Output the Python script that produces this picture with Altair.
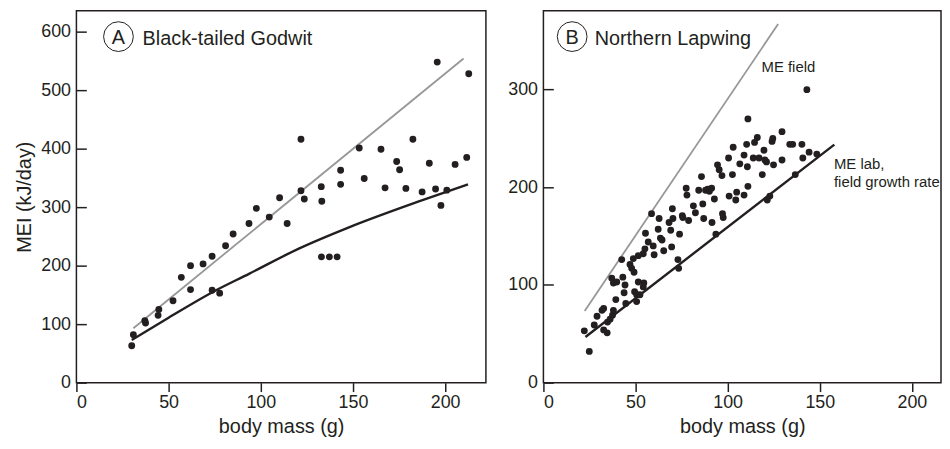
import altair as alt
import pandas as pd

FONT = "Liberation Sans"
INK = "#231f20"

# ---------- Panel A: Black-tailed Godwit ----------
a_mass = [30.0, 30.9, 37.1, 37.5, 44.7, 44.3, 52.4, 56.9, 61.9, 61.9, 68.7, 73.6,
          73.6, 77.7, 80.9, 85.0, 93.6, 97.6, 104.6, 110.2, 114.3, 121.8, 121.8,
          123.6, 132.8, 133.1, 132.9, 137.2, 141.4, 143.3, 143.3, 153.4, 156.1,
          165.2, 167.4, 173.7, 175.3, 178.7, 182.5, 187.5, 191.4, 194.8, 195.7,
          197.7, 200.9, 205.4, 211.7, 212.8]
a_mei = [63, 82, 106, 102, 125, 115, 140, 180, 200, 159, 203, 216,
         158, 153, 234, 254, 272, 298, 283, 316, 272, 416, 328,
         314, 335, 310, 215, 215, 215, 363, 339, 401, 349,
         399, 333, 378, 364, 332, 416, 326, 375, 331, 548,
         303, 329, 373, 385, 528]

a_field_x = [30.9, 210.0]
a_field_y = [93, 554]
a_lab_x = [30.0, 50.0, 74.0, 93.6, 120.6, 147.5, 186.9, 212.4]
a_lab_y = [73, 111, 155, 186, 229, 265, 311, 339]

# ---------- Panel B: Northern Lapwing ----------
b_mass = [22.2, 24.9, 27.6, 29.1, 31.8, 32.7, 32.7, 34.6, 34.8, 36.2, 37.5, 38.0,
          37.1, 38.0, 39.3, 39.8, 42.5, 43.1, 43.8, 44.3, 44.7, 47.9, 48.8, 49.2,
          49.5, 50.6, 50.6, 51.5, 51.5, 52.4, 54.2, 54.5, 55.1, 55.4, 56.9, 58.7,
          59.6, 60.1, 62.3, 62.8, 63.5, 64.4, 65.3, 68.2, 69.1, 69.6, 70.0, 70.3,
          73.0, 73.4, 73.9, 75.4, 75.7, 77.5, 77.9, 78.8, 81.4, 82.5, 84.3, 85.8,
          86.5, 87.0, 88.0, 89.2, 90.1, 91.3, 91.5, 92.8, 93.6, 94.5, 95.4, 96.9,
          97.2, 97.6, 100.5, 100.8, 102.6, 103.0, 104.4, 104.9, 106.6, 108.9, 108.9,
          110.3, 110.7, 111.0, 111.0, 113.9, 114.6, 116.1, 117.0, 118.8, 119.7,
          120.2, 121.1, 121.5, 122.9, 124.1, 124.5, 124.9, 129.5, 129.5, 133.7,
          135.3, 136.7, 140.3, 140.8, 143.0, 144.2, 148.4, 47.0, 54.2]
b_mei = [53, 32, 59, 68, 74, 76, 54, 51, 62, 65, 69, 74,
         107, 102, 85, 103, 126, 108, 92, 100, 81, 117, 127, 113,
         93, 90, 83, 130, 103, 90, 132, 102, 137, 153, 144, 173,
         140, 131, 157, 168, 148, 146, 135, 164, 156, 139, 178, 168,
         126, 117, 152, 171, 169, 199, 192, 166, 181, 174, 197, 211,
         183, 168, 197, 198, 196, 199, 164, 188, 152, 223, 218, 212,
         173, 169, 230, 191, 213, 241, 187, 195, 224, 233, 192,
         244, 221, 201, 270, 230, 246, 251, 230, 213, 238,
         228, 226, 187, 191, 247, 250, 223, 257, 228, 244,
         244, 213, 244, 230, 300, 236, 234, 121, 98]

b_field_x = [22.4, 127.4]
b_field_y = [73.4, 367.2]
b_lab_x = [22.8, 157.9]
b_lab_y = [46.7, 243.7]

x_ticks = [0, 50, 100, 150, 200]
a_y_ticks = [0, 100, 200, 300, 400, 500, 600]
b_y_ticks = [0, 100, 200, 300]


def panel(mass, mei, field_x, field_y, lab_x, lab_y, xmax, ymax, yticks,
          ytitle, letter, letter_xy, name, name_xy, width, notes=None):
    xenc = alt.X("x:Q", scale=alt.Scale(domain=[0, xmax], nice=False, zero=False),
                 axis=alt.Axis(values=x_ticks, tickSize=9, labelPadding=2,
                               titlePadding=5, format="d"),
                 title="body mass (g)")
    yaxis = dict(values=yticks, offset=-10, tickSize=10, labelPadding=6,
                 titlePadding=6, format="d")
    if ytitle:
        yenc = alt.Y("y:Q", scale=alt.Scale(domain=[0, ymax], nice=False, zero=False),
                     axis=alt.Axis(**yaxis), title=ytitle)
    else:
        yenc = alt.Y("y:Q", scale=alt.Scale(domain=[0, ymax], nice=False, zero=False),
                     axis=alt.Axis(**yaxis), title=None)

    pts = alt.Chart(pd.DataFrame({"x": mass, "y": mei})).mark_circle(
        size=48, color=INK, opacity=1).encode(x=xenc, y=yenc)
    field = alt.Chart(pd.DataFrame({"x": field_x, "y": field_y})).mark_line(
        color="#979797", strokeWidth=1.8).encode(x=xenc, y=yenc, order="x:Q")
    lab = alt.Chart(pd.DataFrame({"x": lab_x, "y": lab_y})).mark_line(
        color=INK, strokeWidth=2.4, interpolate="monotone").encode(
        x=xenc, y=yenc, order="x:Q")
    circ = alt.Chart(pd.DataFrame({"x": [letter_xy[0]], "y": [letter_xy[1]]})).mark_point(
        shape="circle", size=900, filled=False, color=INK, strokeWidth=1, opacity=1
    ).encode(x=xenc, y=yenc)
    let = alt.Chart(pd.DataFrame({"x": [letter_xy[0]], "y": [letter_xy[2]],
                                  "t": [letter]})).mark_text(
        font=FONT, fontSize=20, color=INK, align="center", baseline="alphabetic"
    ).encode(x=xenc, y=yenc, text="t:N")
    nm = alt.Chart(pd.DataFrame({"x": [name_xy[0]], "y": [name_xy[1]],
                                 "t": [name]})).mark_text(
        font=FONT, fontSize=20, color=INK, align="left", baseline="alphabetic"
    ).encode(x=xenc, y=yenc, text="t:N")
    layers = [field, lab, pts, circ, let, nm]
    if notes is not None:
        nt = alt.Chart(pd.DataFrame(notes)).mark_text(
            font=FONT, fontSize=15, color=INK, align="left", baseline="alphabetic"
        ).encode(x=xenc, y=yenc, text="t:N")
        layers.append(nt)
    return alt.layer(*layers).properties(width=width, height=375)


note_x = [118.4, 157.7, 157.7]
note_y = [318.0, 218.3, 200.3]
note_t = ["ME field", "ME lab,", "field growth rate"]

pa = panel(a_mass, a_mei, a_field_x, a_field_y, a_lab_x, a_lab_y,
           222.1, 635.6, a_y_ticks, "MEI (kJ/day)", "A", (22.8, 591.5, 578.5),
           "Black-tailed Godwit", (35.9, 577.3), 413)
pb = panel(b_mass, b_mei, b_field_x, b_field_y, b_lab_x, b_lab_y,
           215.8, 380.7, b_y_ticks, None, "B", (15.6, 354.3, 346.5),
           "Northern Lapwing", (27.8, 345.8), 401,
           notes={"x": note_x, "y": note_y, "t": note_t})

chart = alt.hconcat(pa, pb, spacing=20).properties(
    padding={"left": 6, "top": 0, "right": 0, "bottom": 0}
).configure_view(stroke=INK, strokeWidth=1.5).configure_axis(
    labelFont=FONT, titleFont=FONT, labelFontSize=18, titleFontSize=20,
    titleFontWeight="normal", labelColor=INK, titleColor=INK, tickColor=INK,
    tickWidth=1.5, grid=False, domain=False
)

chart.save("out.html", embed_options={"renderer": "svg", "actions": False})
